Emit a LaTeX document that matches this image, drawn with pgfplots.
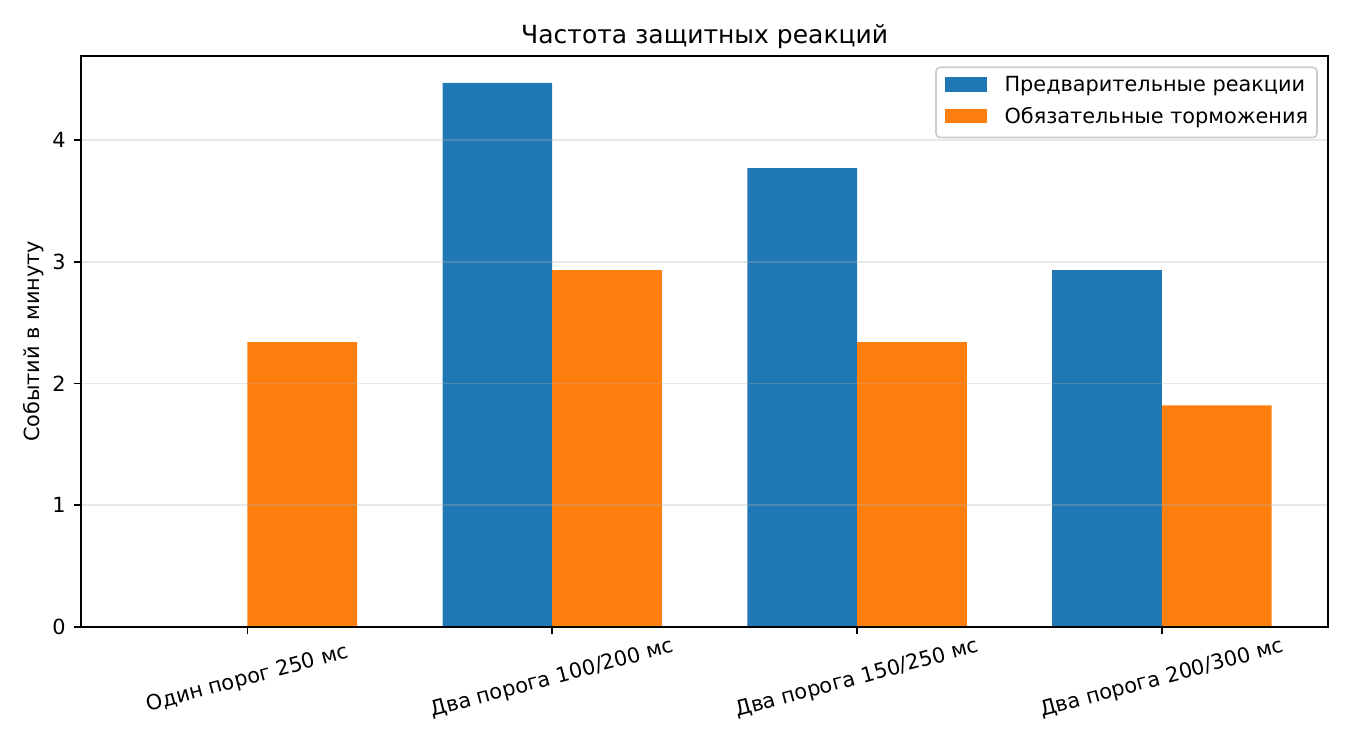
\documentclass[border=0pt]{standalone}
\usepackage{fontspec}
\setmainfont{DejaVu Sans}
\usepackage{pgfplots}
\pgfplotsset{compat=1.18}
\definecolor{mblue}{HTML}{1F77B4}
\definecolor{morange}{HTML}{FF7F0E}
\definecolor{gridc}{HTML}{B0B0B0}
\definecolor{legc}{HTML}{CCCCCC}
\begin{document}
\begin{tikzpicture}
\begin{axis}[
  at={(38.88pt,59.18pt)}, anchor=south west,
  scale only axis, width=598.7pt, height=273.9pt,
  xmin=-0.546, xmax=3.546, ymin=0, ymax=4.69,
  xtick={0,1,2,3},
  xticklabels={Один порог 250 мс, Два порога 100/200 мс, Два порога 150/250 мс, Два порога 200/300 мс},
  ytick={0,1,2,3,4},
  tick align=outside, major tick length=3.5pt,
  xtick pos=lower, ytick pos=left,
  tick style={line width=0.8pt, black},
  axis line style={line width=0.8pt, black},
  ymajorgrids, major grid style={gridc, opacity=0.3, line width=0.8pt},
  axis on top,
  /pgf/number format/assume math mode=true,
  yticklabel style={anchor=east, inner sep=0pt},
  yticklabel shift=3.7pt,
  xticklabel style={rotate=15, anchor=center, inner sep=0pt},
  xticklabel shift=21.6pt,
  title={Частота защитных реакций},
  title style={at={(0.5,1)}, anchor=base, inner sep=0pt, font=\fontsize{12}{14}\selectfont},
  ylabel={Событий в минуту},
  ylabel style={at={(axis description cs:-0.0291,0.5)}, anchor=south, inner sep=0pt},
  legend cell align=left,
  legend style={at={(1,1)}, anchor=north east, xshift=-5pt, yshift=-5pt,
    draw=legc, fill=white, line width=0.8pt, rounded corners=2pt,
    inner sep=4.3pt, row sep=5.1pt, column sep=8.6pt,
    nodes={inner sep=0pt, text height=7.5pt, text depth=2.5pt, anchor=base west}},
]
\addplot[ybar, bar width=0.36, bar shift=-0.18, fill=mblue, draw=none,
  legend image code/.code={\fill[mblue, sharp corners] (0pt,0pt) rectangle (20pt,7pt);}]
  coordinates {(0,0) (1,4.47) (2,3.77) (3,2.93)};
\addlegendentry{Предварительные реакции}
\addplot[ybar, bar width=0.36, bar shift=0.18, fill=morange, draw=none,
  legend image code/.code={\fill[morange, sharp corners] (0pt,0pt) rectangle (20pt,7pt);}]
  coordinates {(0,2.34) (1,2.93) (2,2.34) (3,1.82)};
\addlegendentry{Обязательные торможения}
\end{axis}
\pgfresetboundingbox
\path[use as bounding box] (0,0) rectangle (648pt,360pt);
\end{tikzpicture}
\end{document}
